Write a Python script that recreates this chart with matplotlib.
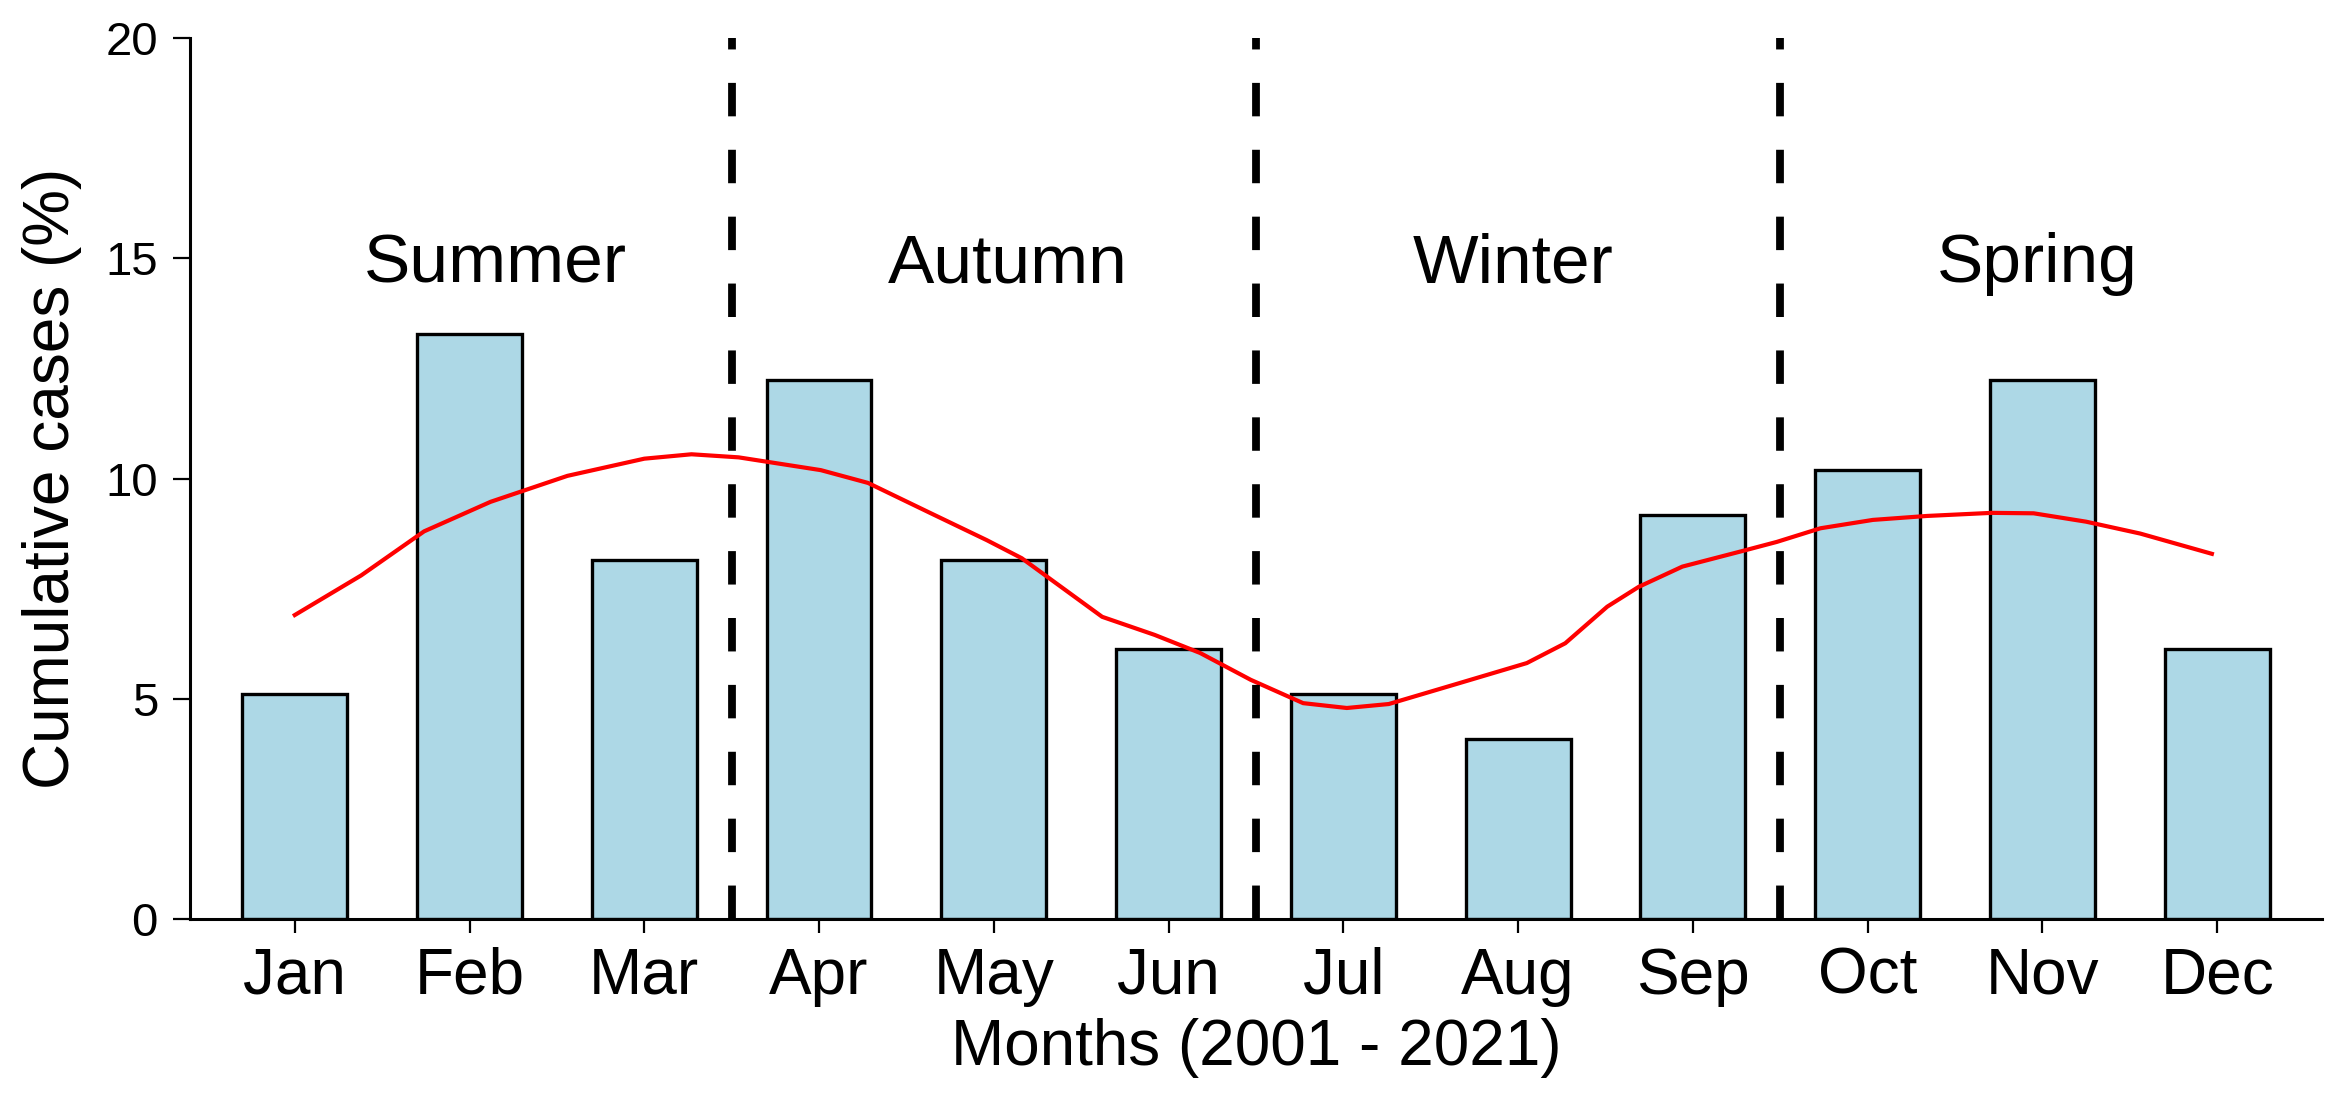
import matplotlib
matplotlib.use("Agg")
from matplotlib import pyplot as plt

months = ['Jan', 'Feb', 'Mar', 'Apr', 'May', 'Jun',
          'Jul', 'Aug', 'Sep', 'Oct', 'Nov', 'Dec']
cases_pct = [5.1, 13.27, 8.16, 12.24, 8.16, 6.12, 5.1, 4.08, 9.18, 10.2, 12.24, 6.12]

# smooth trend line (x in month index units)
trend_x = [0.0, 0.38, 0.74, 1.12, 1.56, 2.0, 2.27, 2.54, 3.01, 3.28, 3.64, 3.96,
           4.16, 4.62, 4.92, 5.18, 5.47, 5.77, 6.02, 6.26, 6.66, 7.05, 7.27, 7.51,
           7.69, 7.94, 8.27, 8.48, 8.73, 9.03, 9.34, 9.71, 9.95, 10.25, 10.56, 10.97]
trend_y = [6.9, 7.8, 8.8, 9.47, 10.06, 10.45, 10.55, 10.48, 10.19, 9.9, 9.21, 8.6,
           8.19, 6.86, 6.45, 6.04, 5.43, 4.9, 4.79, 4.88, 5.35, 5.81, 6.26, 7.09,
           7.54, 8.0, 8.34, 8.56, 8.87, 9.06, 9.15, 9.22, 9.21, 9.02, 8.75, 8.29]

seasons = ['Summer', 'Autumn', 'Winter', 'Spring']
season_x = [1.15, 4.08, 6.97, 9.97]
season_breaks = [2.5, 5.5, 8.5]

plt.rcParams['font.family'] = ['Liberation Sans', 'DejaVu Sans']

fig = plt.figure(figsize=(11.68, 5.495), dpi=200)
ax = fig.add_axes([0.0813, 0.1638, 0.9127, 0.8016])

x = list(range(len(months)))
ax.bar(x, cases_pct, width=0.6, color='#ADD8E6', edgecolor='black', linewidth=1.2, zorder=2)
ax.plot(trend_x, trend_y, color='red', linewidth=1.5, zorder=3, solid_joinstyle='round')

for b in season_breaks:
    ax.axvline(b, color='black', linewidth=2.8, linestyle=(0, (4.3, 4.3)), zorder=4)

for name, sx in zip(seasons, season_x):
    ax.text(sx, 14.45, name, ha='center', va='baseline', fontsize=25)

ax.set_xlim(-0.6, 11.6)
ax.set_ylim(0, 20)
ax.set_xticks(x)
ax.set_xticklabels(months, fontsize=23)
ax.set_yticks([0, 5, 10, 15, 20])
ax.tick_params(axis='y', labelsize=17, length=6, width=0.8, pad=5.5)
ax.tick_params(axis='x', length=5, width=0.8, pad=5)

for s in ['top', 'right']:
    ax.spines[s].set_visible(False)
for s in ['left', 'bottom']:
    ax.spines[s].set_linewidth(1.1)

ax.set_xlabel('Months (2001 - 2021)', fontsize=23, va='baseline')
ax.xaxis.set_label_coords(0.5, -0.1657)
ax.set_ylabel('Cumulative cases (%)', fontsize=23, va='center')
ax.yaxis.set_label_coords(-0.0647, 0.5)

plt.savefig('out.png', dpi=200)
